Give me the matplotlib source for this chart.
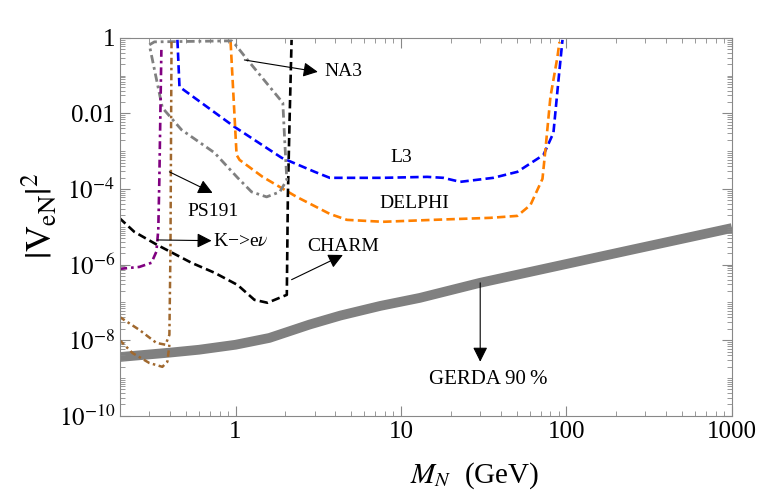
import numpy as np
import matplotlib
matplotlib.use("Agg")
import matplotlib.pyplot as plt
from matplotlib.ticker import LogLocator, FixedLocator, NullFormatter

plt.rcParams['font.family'] = ['Liberation Serif', 'DejaVu Serif']
plt.rcParams['mathtext.fontset'] = 'stix'

# GERDA 90% band
gerda_M = [0.2, 0.4, 0.6, 1, 1.6, 2.8, 4.3, 7.5, 13, 30, 245, 1000]
gerda_V = [3.6e-9, 4.7e-9, 5.6e-9, 7.6e-9, 1.15e-8, 2.6e-8, 4.5e-8, 8.1e-8, 1.32e-7, 3.3e-7, 2.45e-6, 9.3e-6]

# L3 (blue)
l3_M = [0.445, 0.458, 0.986, 1.90, 3.01, 3.71, 7.78, 14.4, 18.0, 22.8, 36.1, 50.5, 72.6, 83.4, 89.5, 94.6]
l3_V = [0.885, 0.0506, 4.4e-3, 6.7e-4, 2.85e-4, 1.98e-4, 1.98e-4, 2.1e-4, 1.98e-4, 1.55e-4,
        1.98e-4, 2.85e-4, 8.0e-4, 3.07e-3, 0.0774, 0.885]

# DELPHI (orange)
delphi_M = [0.933, 1.014, 1.057, 1.457, 2.34, 3.71, 4.71, 7.78, 15.6, 34.6, 50.5, 60.6, 71.6, 74.6, 80.0, 88.2, 90.7]
delphi_V = [0.78, 8.0e-4, 5.9e-4, 2.1e-4, 6.2e-5, 2.2e-5, 1.53e-5, 1.36e-5, 1.53e-5, 1.73e-5,
            1.95e-5, 3.8e-5, 1.86e-4, 1.09e-3, 0.0275, 0.314, 0.78]

# CHARM (black)
charm_M = [0.198, 0.244, 0.337, 0.541, 0.746, 1.028, 1.30, 1.56, 2.04, 2.07, 2.12, 2.18]
charm_V = [1.73e-5, 7.4e-6, 3.3e-6, 1.12e-6, 6.1e-7, 2.9e-7, 1.17e-7, 9.8e-8, 1.59e-7, 6.2e-5, 6.8e-3, 0.885]

# NA3 (gray closed contour)
na3_M = [0.301, 0.323, 0.946, 1.0, 1.18, 1.93, 1.98, 2.04, 1.85, 1.54, 1.25, 1.03, 0.746, 0.471, 0.361, 0.301]
na3_V = [0.653, 0.783, 0.833, 0.653, 0.262, 0.0191, 2.0e-3, 1.75e-4, 8.4e-5, 6.2e-5, 8.4e-5,
         1.98e-4, 9.1e-4, 3.7e-3, 0.0141, 0.653]

# K -> e nu (purple)
kenu_M = [0.198, 0.262, 0.31, 0.332, 0.341, 0.346, 0.356]
kenu_V = [7.7e-7, 8.7e-7, 1.12e-6, 2.2e-6, 8.3e-6, 1.75e-4, 0.48]

# PS191 (brown, two branches)
ps191a_M = [0.198, 0.262, 0.332, 0.377, 0.398, 0.404, 0.41]
ps191a_V = [4.2e-8, 1.88e-8, 8.5e-9, 7.6e-9, 1.39e-8, 2.5e-6, 0.78]
ps191b_M = [0.198, 0.238, 0.301, 0.361, 0.387, 0.398]
ps191b_V = [1.03e-8, 4.6e-9, 2.5e-9, 1.98e-9, 2.7e-9, 7.6e-9]

fig = plt.figure(figsize=(7.64, 4.98), dpi=100)
ax = fig.add_axes([0.157, 0.165, 0.801, 0.759])

ax.plot(gerda_M, gerda_V, color='#808080', lw=7, solid_capstyle='butt', zorder=1)
ax.plot(l3_M, l3_V, color='#0000ff', lw=1.9, dashes=(3.2, 1.6))
ax.plot(delphi_M, delphi_V, color='#ff8000', lw=1.9, dashes=(3.2, 1.6))
ax.plot(charm_M, charm_V, color='black', lw=1.9, dashes=(3.2, 1.6))
ax.plot(na3_M, na3_V, color='#808080', lw=2.0, dashes=(3.0, 1.4, 1.0, 1.4))
ax.plot(kenu_M, kenu_V, color='#800080', lw=1.9, dashes=(3.0, 1.5, 1.0, 1.5))
ax.plot(ps191a_M, ps191a_V, color='#a0682e', lw=1.8, dashes=(2.6, 1.4, 1.0, 1.4))
ax.plot(ps191b_M, ps191b_V, color='#a0682e', lw=1.8, dashes=(2.6, 1.4, 1.0, 1.4))

ax.set_xscale('log')
ax.set_yscale('log')
ax.set_xlim(0.2, 1000)
ax.set_ylim(1e-10, 1)

ap = dict(arrowstyle='-|>', lw=0.8, color='black', mutation_scale=22, shrinkA=0, shrinkB=0)
fs = 14
ax.annotate('', xy=(3.14, 0.126), xytext=(1.13, 0.26), arrowprops=ap)
ax.text(3.46, 0.126, 'NA3', fontsize=fs, ha='left', va='center')
ax.annotate('', xy=(0.726, 7.9e-5), xytext=(0.398, 2.85e-4), arrowprops=ap)
ax.text(0.726, 2.5e-5, 'PS191', fontsize=fs, ha='center', va='center')
ax.annotate('', xy=(0.716, 4.3e-6), xytext=(0.337, 4.5e-6), arrowprops=ap)
ax.text(0.735, 4.0e-6, 'K\u2212>e$\\nu$', fontsize=fs, ha='left', va='center')
ax.annotate('', xy=(4.45, 1.8e-6), xytext=(2.18, 4.0e-7), arrowprops=ap)
ax.text(4.45, 3.1e-6, 'CHARM', fontsize=fs, ha='center', va='center')
ax.text(10.0, 6.7e-4, 'L3', fontsize=fs, ha='center', va='center')
ax.text(12.0, 4.1e-5, 'DELPHI', fontsize=fs, ha='center', va='center')
ax.annotate('', xy=(30.1, 2.7e-9), xytext=(30.1, 3.3e-7), arrowprops=ap)
ax.text(33.7, 9e-10, 'GERDA 90\u2009%', fontsize=15, ha='center', va='center')

ax.xaxis.set_major_locator(FixedLocator([1, 10, 100, 1000]))
ax.set_xticklabels(['1', '10', '100', '1000'])
ax.xaxis.set_minor_locator(LogLocator(base=10, subs=np.arange(2, 10), numticks=20))
ax.xaxis.set_minor_formatter(NullFormatter())
ax.yaxis.set_major_locator(FixedLocator([1e-10, 1e-8, 1e-6, 1e-4, 1e-2, 1]))
ax.set_yticklabels(['$10^{-10}$', '$10^{-8}$', '$10^{-6}$', '$10^{-4}$', '0.01', '1'])
ax.yaxis.set_minor_locator(LogLocator(base=10, subs=np.arange(1, 10), numticks=20))
ax.yaxis.set_minor_formatter(NullFormatter())

ax.tick_params(which='both', direction='in', top=True, right=True, color='#888888', labelsize=18)
ax.tick_params(which='major', length=7, width=0.8)
ax.tick_params(which='minor', length=3.5, width=0.6)
for s in ax.spines.values():
    s.set_color('#888888')
    s.set_linewidth(0.8)

ax.set_xlabel('$M_N$  (GeV)', fontsize=21)
ax.set_ylabel(r'$|\mathrm{V}_{\mathrm{eN}}|^2$', fontsize=26)
ax.xaxis.set_label_coords(0.58, -0.118)
ax.yaxis.set_label_coords(-0.097, 0.53)

fig.savefig('out.png', dpi=100)
